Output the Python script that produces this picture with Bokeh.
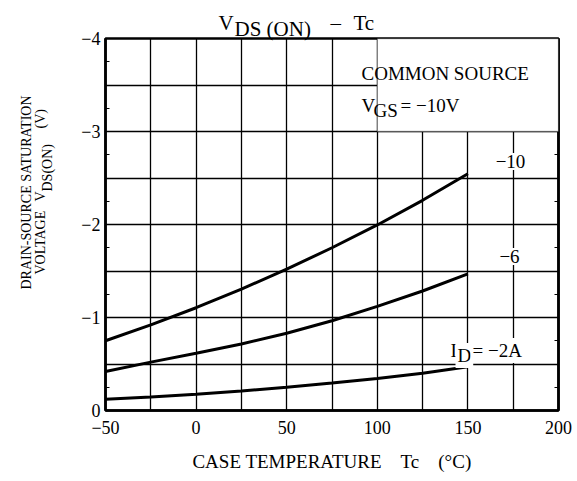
import math
from bokeh.plotting import figure
from bokeh.models import Range1d, FixedTicker, Label, BoxAnnotation, LinearAxis, GridBox, Column
from bokeh.embed import file_html
from bokeh.resources import INLINE

# ---- data ----
temps = [-50, -25, 0, 25, 50, 75, 100, 125, 150]
vds_id10 = [-0.75, -0.92, -1.105, -1.305, -1.52, -1.75, -1.995, -2.26, -2.545]
vds_id6 = [-0.42, -0.52, -0.615, -0.715, -0.83, -0.965, -1.12, -1.285, -1.47]
vds_id2 = [-0.12, -0.145, -0.175, -0.21, -0.25, -0.295, -0.345, -0.40, -0.47]

x_ticks = [-50, 0, 50, 100, 150, 200]
x_tick_labels = ["\u221250", "0", "50", "100", "150", "200"]
y_ticks = [0, -1, -2, -3, -4]
y_tick_labels = ["0", "\u22121", "\u22122", "\u22123", "\u22124"]
x_grid = [-25, 0, 25, 50, 75, 100, 125, 150, 175]
y_grid = [-0.5, -1, -1.5, -2, -2.5, -3, -3.5]
y_minor = [-0.25 * i for i in range(1, 16)]

FONT = "Liberation Serif"

W, H = 577, 481                       # page size
FL, FR, FT, FB = 105, 558, 38, 410   # frame edges on the page
X0, X1, Y0, Y1 = -50, 200, 0, -4


def dx(px):
    return X0 + (px - FL) * (X1 - X0) / (FR - FL)


def dy(py):
    return Y0 + (FB - py) * (Y1 - Y0) / (FB - FT)


def lab(fig, text, x, y, size, align="left", baseline="alphabetic", angle=0.0, bg=None):
    kw = {}
    if bg is not None:
        kw = dict(background_fill_color=bg, background_fill_alpha=1.0, padding=2)
    fig.add_layout(Label(x=x, y=y, text=text, text_font=FONT,
                         text_font_size=size, text_color="black",
                         text_align=align, text_baseline=baseline,
                         angle=angle, **kw))


# ---------------- main chart ----------------
p = figure(width=W, height=H, title=None,
           x_range=Range1d(X0, X1), y_range=Range1d(Y0, Y1),
           output_backend="svg", toolbar_location=None,
           min_border_left=FL, min_border_right=W - FR,
           min_border_top=FT, min_border_bottom=H - FB)

p.outline_line_color = "black"
p.outline_line_width = 2.5
p.background_fill_color = "white"
p.border_fill_color = "white"

p.xaxis.ticker = FixedTicker(ticks=x_ticks)
p.xaxis.major_label_overrides = {t: l for t, l in zip(x_ticks, x_tick_labels)}
p.yaxis.ticker = FixedTicker(ticks=y_ticks, minor_ticks=y_minor)
p.yaxis.major_label_overrides = {t: l for t, l in zip(y_ticks, y_tick_labels)}
for ax in (p.xaxis, p.yaxis):
    ax.axis_line_color = "black"
    ax.axis_line_width = 2.5
    ax.major_tick_in = 0
    ax.major_tick_out = 0
    ax.major_label_text_font = FONT
    ax.major_label_text_font_size = "18px"
    ax.major_label_text_color = "black"
p.xaxis.minor_tick_line_color = None
p.yaxis.minor_tick_in = 4
p.yaxis.minor_tick_out = 0
p.yaxis.minor_tick_line_color = "black"
p.xaxis.major_label_standoff = 10
p.yaxis.major_label_standoff = 5

p.xaxis.axis_label = "CASE TEMPERATURE\u2003Tc\u2003(\u00b0C)"
p.xaxis.axis_label_text_font = FONT
p.xaxis.axis_label_text_font_size = "19px"
p.xaxis.axis_label_text_font_style = "normal"
p.xaxis.axis_label_text_color = "black"
p.xaxis.axis_label_standoff = 14

right = LinearAxis(ticker=FixedTicker(ticks=[], minor_ticks=y_minor))
right.axis_line_color = "black"
right.axis_line_width = 2.5
right.major_tick_in = 0
right.major_tick_out = 0
right.minor_tick_in = 4
right.minor_tick_out = 0
right.major_label_text_font_size = "0px"
right.major_label_standoff = 0
p.add_layout(right, "right")

p.xgrid.ticker = FixedTicker(ticks=x_grid)
p.ygrid.ticker = FixedTicker(ticks=y_grid)
for g in (p.xgrid, p.ygrid):
    g.grid_line_color = "black"
    g.grid_line_width = 1.3
    g.grid_line_alpha = 1

# blank box in the top-right corner (holds the conditions text)
box = BoxAnnotation(left=100, right=200, top=-4, bottom=-3,
                    fill_color="white", fill_alpha=1,
                    line_color="black", line_width=1.3)
p.add_layout(box)

for ys in (vds_id10, vds_id6, vds_id2):
    p.line(temps, ys, line_color="black", line_width=3)

lab(p, "COMMON SOURCE", dx(361), dy(73), "19px")
lab(p, "V", dx(361), dy(105), "19px")
lab(p, "GS", dx(373), dy(110), "19px")
lab(p, "= \u221210V", dx(400), dy(105), "19px")

lab(p, "\u221210", dx(510), dy(161), "19px", align="center", bg="white")
lab(p, "\u22126", dx(509), dy(256), "19px", align="center", bg="white")
lab(p, "I", dx(448), dy(350), "19px", bg="white")
lab(p, "D", dx(455), dy(355), "19px", bg="white")
lab(p, "= \u22122A", dx(470), dy(350), "19px", bg="white")

# ---------------- transparent overlay for texts outside the frame ----------------
ov = figure(width=W, height=H, title=None,
            x_range=Range1d(0, W), y_range=Range1d(H, 0),
            output_backend="svg", toolbar_location=None,
            x_axis_location=None, y_axis_location=None,
            min_border=0, min_border_left=0, min_border_right=0,
            min_border_top=0, min_border_bottom=0)
ov.outline_line_color = None
ov.grid.visible = False
ov.background_fill_alpha = 0
ov.border_fill_alpha = 0

# title  V_DS(ON) – Tc
lab(ov, "V", 218, 22, "21px")
lab(ov, "DS (ON)", 234, 28, "21px")
lab(ov, "\u2013", 330, 22, "21px")
lab(ov, "Tc", 353, 22, "21px")

# y-axis title (rotated, reads bottom to top)
A = math.pi / 2
lab(ov, "DRAIN-SOURCE SATURATION", 26, 192, "14px", align="center", baseline="middle", angle=A)
lab(ov, "VOLTAGE", 40, 274, "14px", align="left", baseline="middle", angle=A)
lab(ov, "V", 40, 201, "14px", align="left", baseline="middle", angle=A)
lab(ov, "DS(ON)", 47, 191, "14px", align="left", baseline="middle", angle=A)
lab(ov, "(V)", 40, 128, "14px", align="left", baseline="middle", angle=A)

layout = GridBox(children=[(p, 0, 0), (Column(children=[ov]), 0, 0)])
open("out.html", "w").write(file_html(layout, INLINE))
